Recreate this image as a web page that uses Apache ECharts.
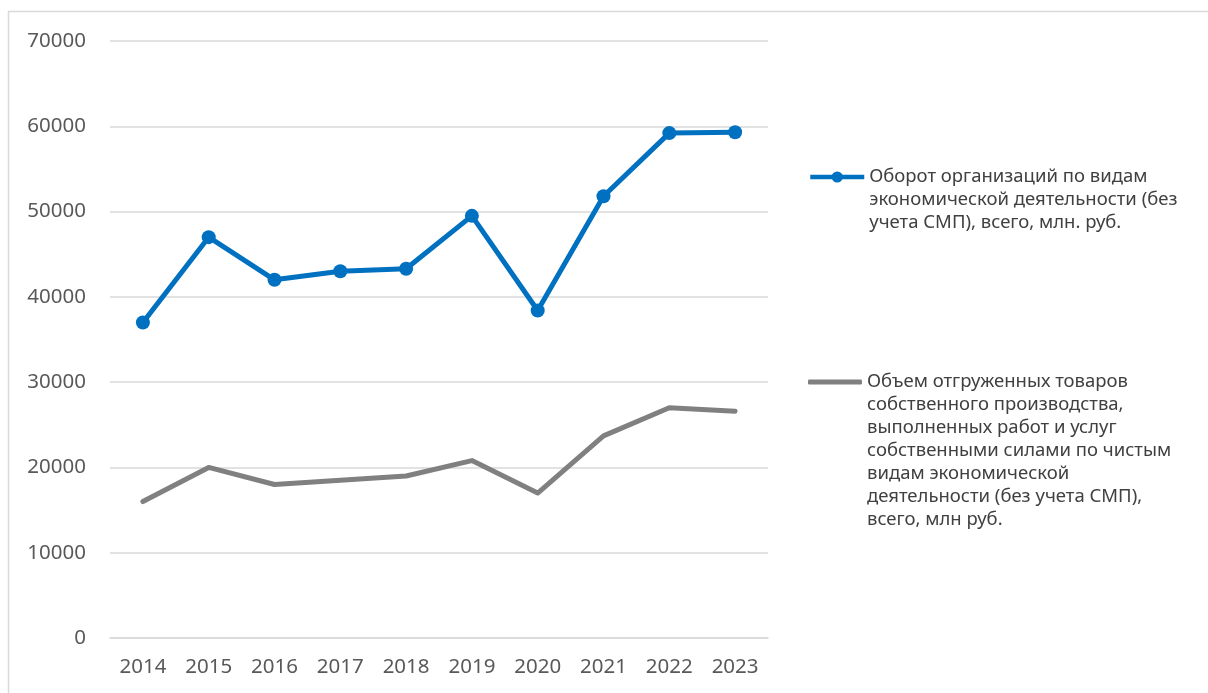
<!DOCTYPE html>
<html>
<head>
<meta charset="utf-8">
<script src="https://cdn.jsdelivr.net/npm/echarts@6/dist/echarts.min.js"></script>
<style>
html,body{margin:0;padding:0;background:#fff;}
#chart{width:1208px;height:693px;}
</style>
</head>
<body>
<div id="chart"></div>
<script>
const years = ['2014','2015','2016','2017','2018','2019','2020','2021','2022','2023'];
const turnover = [37000, 47000, 42000, 43000, 43300, 49500, 38400, 51800, 59200, 59300];
const shipped = [16000, 20000, 18000, 18500, 19000, 20800, 17000, 23700, 27000, 26600];
const name1 = 'Оборот организаций по видам\nэкономической деятельности (без\nучета СМП), всего, млн. руб.';
const name2 = 'Объем отгруженных товаров\nсобственного производства,\nвыполненных работ и услуг\nсобственными силами по чистым\nвидам экономической\nдеятельности (без учета СМП),\nвсего, млн руб.';

const FONT = 'Noto Sans';
const LH = 23;
// prepend blank lines so that the first text line sits level with the legend icon
function topAligned(name) {
  const n = name.split('\n').length;
  return '\n'.repeat(n - 1) + name;
}
const chart = echarts.init(document.getElementById('chart'), null, {renderer:'canvas'});
chart.setOption({
  animation: false,
  backgroundColor: '#fff',
  graphic: [{
    type: 'rect', silent: true,
    shape: {x: 8.5, y: 11.5, width: 1400, height: 900},
    style: {fill: 'none', stroke: '#d9d9d9', lineWidth: 1.5}
  }],
  grid: {left: 110, right: 440, top: 41, bottom: 55, containLabel: false},
  legend: [{
    data: [name1],
    orient: 'vertical', padding: 0,
    left: 808, top: 177 - 5*LH/2,
    itemWidth: 54, itemHeight: 14, itemGap: 0,
    formatter: topAligned,
    lineStyle: {width: 4.5},
    textStyle: {fontFamily: FONT, fontSize: 18.5, color: '#404040', lineHeight: LH},
    selectedMode: false
  },{
    data: [{name: name2, icon: 'roundRect'}],
    orient: 'vertical', padding: 0,
    left: 808, top: 382 - 13*LH/2,
    itemWidth: 54, itemHeight: 5, itemGap: 0,
    formatter: topAligned,
    textStyle: {fontFamily: FONT, fontSize: 18.5, color: '#404040', lineHeight: LH},
    selectedMode: false
  }],
  xAxis: {
    type: 'category', data: years, boundaryGap: true,
    axisLine: {lineStyle: {color: '#d9d9d9', width: 1.5}},
    axisTick: {show: false},
    axisLabel: {fontFamily: FONT, fontSize: 20.5, color: '#595959', margin: 19}
  },
  yAxis: {
    type: 'value', min: 0, max: 70000, interval: 10000,
    axisLine: {show: false}, axisTick: {show: false},
    splitLine: {lineStyle: {color: '#d9d9d9', width: 1.5}},
    axisLabel: {fontFamily: FONT, fontSize: 20.5, color: '#595959', margin: 24,
      formatter: v => String(v)}
  },
  series: [{
    name: name1, type: 'line', data: turnover,
    symbol: 'circle', symbolSize: 14,
    lineStyle: {color: '#0070c0', width: 5},
    itemStyle: {color: '#0070c0'}
  },{
    name: name2, type: 'line', data: shipped,
    symbol: 'none', showSymbol: false,
    lineStyle: {color: '#808080', width: 5, cap: 'round', join: 'round'},
    itemStyle: {color: '#808080'}
  }]
});
</script>
</body>
</html>
